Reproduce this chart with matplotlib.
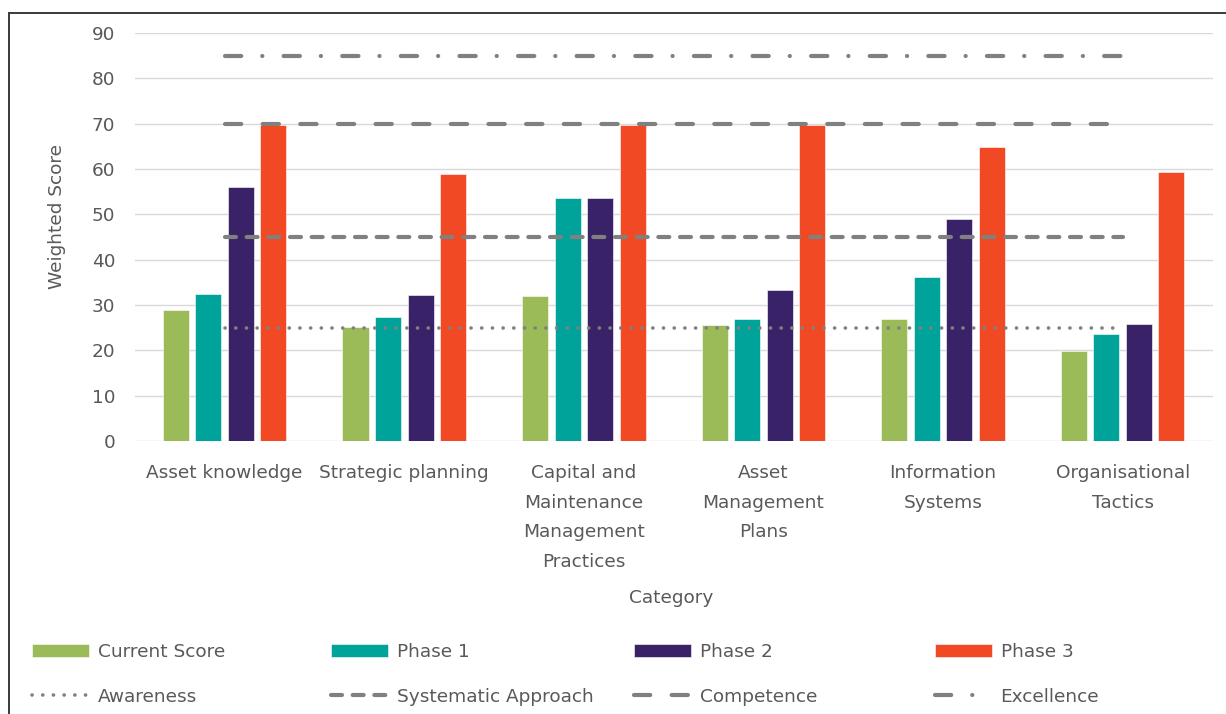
import numpy as np
import matplotlib.pyplot as plt
from matplotlib.patches import Rectangle

plt.rcParams["font.family"] = ["DejaVu Sans"]
plt.rcParams["lines.scale_dashes"] = False

categories = [
    "Asset knowledge",
    "Strategic planning",
    "Capital and\nMaintenance\nManagement\nPractices",
    "Asset\nManagement\nPlans",
    "Information\nSystems",
    "Organisational\nTactics",
]
current_score = [28.9, 25.2, 32.0, 25.6, 26.8, 19.8]
phase_1 = [32.5, 27.3, 53.6, 26.9, 36.1, 23.7]
phase_2 = [56.0, 32.1, 53.6, 33.3, 49.0, 25.7]
phase_3 = [69.7, 58.9, 69.7, 69.7, 64.9, 59.3]

awareness = [25] * 6
systematic = [45] * 6
competence = [70] * 6
excellence = [85] * 6

text_grey = "#595959"
line_grey = "#808080"
fs = 13.3

fig = plt.figure(figsize=(12.26, 7.14), dpi=100)
ax = fig.add_axes([0.110, 0.3824, 0.879, 0.5714])

x = np.arange(len(categories))
pitch = 0.181
width = 0.145
bars = [
    (current_score, "#9BBB59", "Current Score"),
    (phase_1, "#00A39A", "Phase 1"),
    (phase_2, "#3A2268", "Phase 2"),
    (phase_3, "#F04923", "Phase 3"),
]
bar_handles = []
for i, (vals, color, label) in enumerate(bars):
    h = ax.bar(x + (i - 1.5) * pitch, vals, width, color=color, label=label,
               edgecolor="white", linewidth=0.4, zorder=2)
    bar_handles.append(h)

# target levels drawn across the category centres
(aw,) = ax.plot(x, awareness, color=line_grey, lw=2.6,
                linestyle=(0, (0.1, 7.6)), dash_capstyle="round",
                label="Awareness", zorder=3)
(sy,) = ax.plot(x, systematic, color=line_grey, lw=3.0,
                linestyle=(0, (7.9, 7.7)), dash_capstyle="round",
                label="Systematic Approach", zorder=3)
(co,) = ax.plot(x, competence, color=line_grey, lw=3.0,
                linestyle=(0, (11.7, 15.4)), dash_capstyle="round",
                label="Competence", zorder=3)
(ex,) = ax.plot(x, excellence, color=line_grey, lw=3.0,
                linestyle=(0, (11.7, 15.1, 0.1, 15.3)), dash_capstyle="round",
                label="Excellence", zorder=3)

ax.set_xlim(-0.5, len(categories) - 0.5)
ax.set_ylim(0, 90)
ax.set_yticks(range(0, 91, 10))
ax.grid(axis="y", color="#D9D9D9", linewidth=1.0, zorder=0)
ax.set_axisbelow(True)
for s in ax.spines.values():
    s.set_visible(False)
ax.tick_params(axis="both", length=0, labelcolor=text_grey, labelsize=fs)
ax.tick_params(axis="y", pad=14)
ax.tick_params(axis="x", pad=16.5)
ax.set_xticks(x)
ax.set_xticklabels(categories, linespacing=1.83)

ax.set_ylabel("Weighted Score", color=text_grey, fontsize=fs, va="center")
ax.yaxis.set_label_coords(-0.072, 0.55)
ax.set_xlabel("Category", color=text_grey, fontsize=fs, va="center")
ax.xaxis.set_label_coords(0.498, -0.385)

# legend: two rows of four entries, laid out on fixed column positions
col_x = [32, 331, 634, 935]
row_y = [652, 697]
rows = [bar_handles, [aw, sy, co, ex]]
for r, handles in enumerate(rows):
    for c, h in enumerate(handles):
        fig.legend(handles=[h], loc="center left",
                   bbox_to_anchor=(col_x[c] / 1226, 1 - row_y[r] / 714),
                   frameon=False, fontsize=fs, labelcolor=text_grey,
                   handlelength=3.1, handleheight=0.75, handletextpad=0.45,
                   borderpad=0, borderaxespad=0)

fig.add_artist(Rectangle((9 / 1226, -0.05), 1.2, 1 - 13 / 714 + 0.05,
                         transform=fig.transFigure, fill=False,
                         edgecolor="#3a3a3a", linewidth=1.4))

fig.savefig("out.png", dpi=100)
